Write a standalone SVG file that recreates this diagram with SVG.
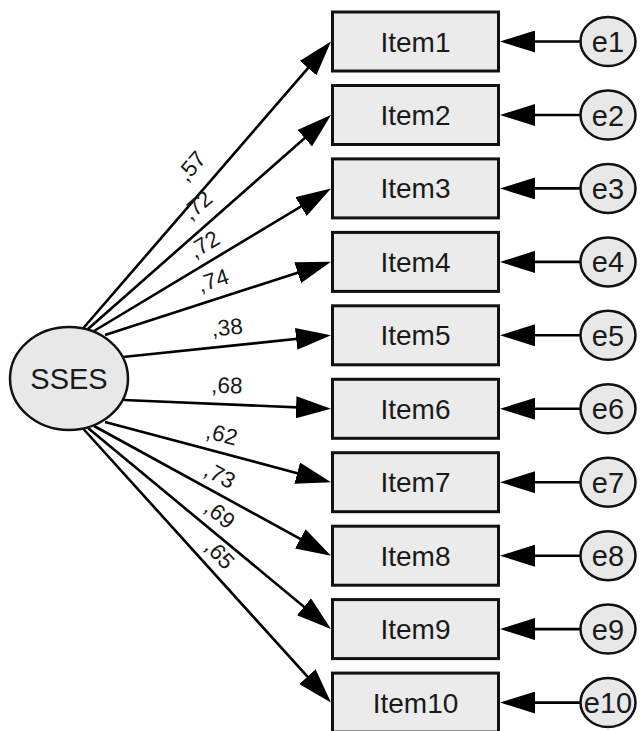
<svg xmlns="http://www.w3.org/2000/svg" width="643" height="731" viewBox="0 0 643 731">
<style>
.box{fill:#ebebeb;stroke:#111;stroke-width:3}
.ell{fill:#e8e8e8;stroke:#111;stroke-width:2.5}
.ln{stroke:#000;stroke-width:2.6;fill:none;marker-end:url(#ah)}
.t{font-family:"Liberation Sans",Arial,sans-serif;fill:#1a1a1a;text-anchor:middle}
.it{font-size:28px}
.el{font-size:29px}
.lab{font-size:22.5px}
</style>
<defs>
<marker id="ah" markerUnits="userSpaceOnUse" viewBox="0 0 35 22" markerWidth="35" markerHeight="22" refX="30" refY="11" orient="auto">
<path d="M0,0 L35,11 L0,22 z" fill="#000"/>
</marker>
</defs>
<rect width="643" height="731" fill="#fff"/>
<g id="connectors">
<line class="ln" x1="83" y1="328.5" x2="327.7" y2="45.3"/>
<line class="ln" x1="88" y1="329" x2="327.25" y2="118.3"/>
<line class="ln" x1="94" y1="331" x2="326.7" y2="191"/>
<line class="ln" x1="105" y1="335" x2="326.2" y2="263.4"/>
<line class="ln" x1="123" y1="357" x2="326" y2="335.8"/>
<line class="ln" x1="124" y1="400" x2="326" y2="408.6"/>
<line class="ln" x1="105" y1="422" x2="326.2" y2="480.9"/>
<line class="ln" x1="94" y1="426" x2="326.6" y2="553.3"/>
<line class="ln" x1="88" y1="428" x2="327.1" y2="625.9"/>
<line class="ln" x1="83" y1="428.5" x2="327.6" y2="698.9"/>
<line class="ln" x1="580" y1="41.5" x2="505" y2="41.5"/>
<line class="ln" x1="580" y1="115" x2="505" y2="115"/>
<line class="ln" x1="580" y1="188.4" x2="505" y2="188.4"/>
<line class="ln" x1="580" y1="261.9" x2="505" y2="261.9"/>
<line class="ln" x1="580" y1="335.3" x2="505" y2="335.3"/>
<line class="ln" x1="580" y1="408.8" x2="505" y2="408.8"/>
<line class="ln" x1="580" y1="482.2" x2="505" y2="482.2"/>
<line class="ln" x1="580" y1="555.7" x2="505" y2="555.7"/>
<line class="ln" x1="580" y1="629.1" x2="505" y2="629.1"/>
<line class="ln" x1="580" y1="702.6" x2="505" y2="702.6"/>
<g class="t lab">
<text x="191" y="174" transform="rotate(-49 191 166)">,57</text>
<text x="197" y="213" transform="rotate(-41 197 205)">,72</text>
<text x="204" y="252" transform="rotate(-31 204 244)">,72</text>
<text x="213" y="288" transform="rotate(-18 213 280)">,74</text>
<text x="227" y="335" transform="rotate(-6 227 327)">,38</text>
<text x="227" y="393" transform="rotate(2 227 385)">,68</text>
<text x="222" y="442" transform="rotate(15 222 434)">,62</text>
<text x="220" y="483" transform="rotate(28 220 475)">,73</text>
<text x="220" y="522" transform="rotate(39 220 514)">,69</text>
<text x="220" y="562" transform="rotate(47 220 554)">,65</text>
</g>
</g>
<g id="SSES"><ellipse class="ell" cx="69" cy="378.5" rx="59" ry="51.5"/><text class="t el" x="69" y="389">SSES</text></g>
<g id="Item1"><rect class="box" x="332.5" y="12" width="166" height="59"/><text class="t it" x="415.5" y="51.5">Item1</text></g>
<g id="Item2"><rect class="box" x="332.5" y="85.5" width="166" height="59"/><text class="t it" x="415.5" y="125">Item2</text></g>
<g id="Item3"><rect class="box" x="332.5" y="158.9" width="166" height="59"/><text class="t it" x="415.5" y="198.4">Item3</text></g>
<g id="Item4"><rect class="box" x="332.5" y="232.4" width="166" height="59"/><text class="t it" x="415.5" y="271.9">Item4</text></g>
<g id="Item5"><rect class="box" x="332.5" y="305.8" width="166" height="59"/><text class="t it" x="415.5" y="345.3">Item5</text></g>
<g id="Item6"><rect class="box" x="332.5" y="379.3" width="166" height="59"/><text class="t it" x="415.5" y="418.8">Item6</text></g>
<g id="Item7"><rect class="box" x="332.5" y="452.7" width="166" height="59"/><text class="t it" x="415.5" y="492.2">Item7</text></g>
<g id="Item8"><rect class="box" x="332.5" y="526.2" width="166" height="59"/><text class="t it" x="415.5" y="565.7">Item8</text></g>
<g id="Item9"><rect class="box" x="332.5" y="599.6" width="166" height="59"/><text class="t it" x="415.5" y="639.1">Item9</text></g>
<g id="Item10"><rect class="box" x="332.5" y="673.1" width="166" height="59"/><text class="t it" x="415.5" y="712.6">Item10</text></g>
<g id="e1"><ellipse class="ell" cx="608" cy="41.5" rx="27.5" ry="24.5"/><text class="t el" x="608" y="52">e1</text></g>
<g id="e2"><ellipse class="ell" cx="608" cy="115" rx="27.5" ry="24.5"/><text class="t el" x="608" y="125.5">e2</text></g>
<g id="e3"><ellipse class="ell" cx="608" cy="188.4" rx="27.5" ry="24.5"/><text class="t el" x="608" y="198.9">e3</text></g>
<g id="e4"><ellipse class="ell" cx="608" cy="261.9" rx="27.5" ry="24.5"/><text class="t el" x="608" y="272.4">e4</text></g>
<g id="e5"><ellipse class="ell" cx="608" cy="335.3" rx="27.5" ry="24.5"/><text class="t el" x="608" y="345.8">e5</text></g>
<g id="e6"><ellipse class="ell" cx="608" cy="408.8" rx="27.5" ry="24.5"/><text class="t el" x="608" y="419.3">e6</text></g>
<g id="e7"><ellipse class="ell" cx="608" cy="482.2" rx="27.5" ry="24.5"/><text class="t el" x="608" y="492.7">e7</text></g>
<g id="e8"><ellipse class="ell" cx="608" cy="555.7" rx="27.5" ry="24.5"/><text class="t el" x="608" y="566.2">e8</text></g>
<g id="e9"><ellipse class="ell" cx="608" cy="629.1" rx="27.5" ry="24.5"/><text class="t el" x="608" y="639.6">e9</text></g>
<g id="e10"><ellipse class="ell" cx="608" cy="702.6" rx="27.5" ry="24.5"/><text class="t el" x="608" y="713.1">e10</text></g>
</svg>
